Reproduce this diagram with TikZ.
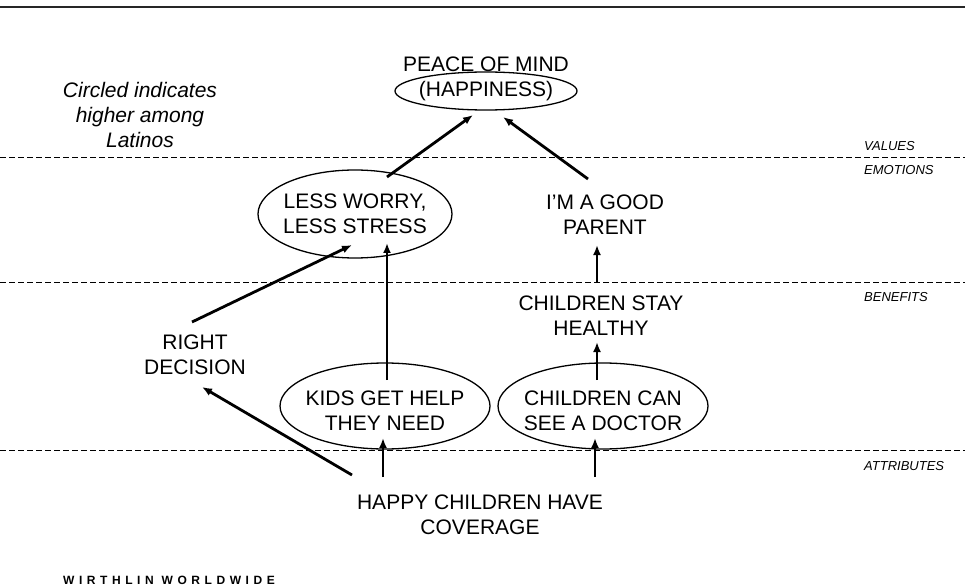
\documentclass[tikz,border=0pt]{standalone}
\usepackage{fontspec}
\setmainfont{Liberation Sans}
\usetikzlibrary{arrows.meta}

\begin{document}
\begin{tikzpicture}[x=1pt, y=1pt,
    txt/.style={align=center, inner sep=0pt, font=\fontsize{21}{25}\selectfont},
    lyr/.style={anchor=west, inner sep=0pt, font=\fontsize{13}{15}\selectfont\itshape},
    arr/.style={-{Latex[length=10pt, width=8pt]}, line width=2.8pt},
    layerline/.style={dash pattern=on 6pt off 3pt, line width=1pt},
    circled/.style={line width=1.3pt}]
    \useasboundingbox (0,0) rectangle (965,587);

    % rules and layers
    \draw[line width=2.5pt, black!85] (0,580) -- (965,580);
    \draw[layerline] (0,429) -- (965,429);
    \draw[layerline] (0,305) -- (965,305);
    \draw[layerline] (0,137) -- (965,137);
    \node[lyr] (values) at (864,441) {VALUES};
    \node[lyr] (emotions) at (864,417) {EMOTIONS};
    \node[lyr] (benefits) at (864,290) {BENEFITS};
    \node[lyr] (attributes) at (864,121) {ATTRIBUTES};

    \node[txt, font=\fontsize{21}{25}\selectfont\itshape] (note) at (140,472)
        {Circled indicates\\higher among\\Latinos};

    % ladder
    \node[txt] (peace) at (486,523) {PEACE OF MIND};
    \node[txt] (hap) at (486,496) {(HAPPINESS)};
    \node[txt] (worry) at (355,373) {LESS WORRY,\\LESS STRESS};
    \node[txt] (parent) at (605,372.5) {I’M A GOOD\\PARENT};
    \node[txt] (healthy) at (601,271.5) {CHILDREN STAY\\HEALTHY};
    \node[txt] (decision) at (195,232.5) {RIGHT\\DECISION};
    \node[txt] (kids) at (385,176.5) {KIDS GET HELP\\THEY NEED};
    \node[txt] (doctor) at (603,176.5) {CHILDREN CAN\\SEE A DOCTOR};
    \node[txt] (coverage) at (480,72) {HAPPY CHILDREN HAVE\\COVERAGE};

    \draw[circled] (hap.center) ellipse (91 and 19);
    \draw[circled] (worry.center) ellipse (97 and 44);
    \draw[circled] ([yshift=4.5]kids.center) ellipse (105 and 43);
    \draw[circled] ([yshift=4.5]doctor.center) ellipse (105 and 43);

    \draw[arr] ([shift={(-128,40)}]coverage.center) -- ([shift={(7,-32.5)}]decision.center);
    \draw[arr] ([shift={(-97,38)}]coverage.center) -- ([shift={(-2,-27.5)}]kids.center);
    \draw[arr] ([shift={(115,38)}]coverage.center) -- ([shift={(-8,-27.5)}]doctor.center);
    \draw[arr] ([shift={(2,30.5)}]kids.center) -- ([shift={(32,-29)}]worry.center);
    \draw[arr] ([shift={(-3,32.5)}]decision.center) -- ([shift={(-3,-31)}]worry.center);
    \draw[arr] ([shift={(-6,30.5)}]doctor.center) -- ([shift={(-4,-26.5)}]healthy.center);
    \draw[arr] ([shift={(-4,32.5)}]healthy.center) -- ([shift={(-8,-30.5)}]parent.center);
    \draw[arr] ([shift={(-17,35.5)}]parent.center) -- ([shift={(17,-26)}]hap.center);
    \draw[arr] ([shift={(32,37)}]worry.center) -- ([shift={(-13,-24)}]hap.center);

    \node[anchor=west, inner sep=0pt,
        font=\fontsize{12}{14}\selectfont\bfseries\addfontfeature{LetterSpace=38}]
        (brand) at (63,7) {WIRTHLIN WORLDWIDE};
\end{tikzpicture}
\end{document}
